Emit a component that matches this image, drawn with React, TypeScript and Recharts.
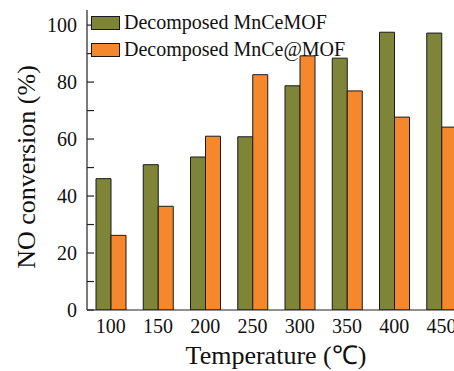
import { BarChart, Bar, XAxis, YAxis } from 'recharts';

const temperatures = ['100', '150', '200', '250', '300', '350', '400', '450'];
const mnCeMof = [46.1, 51.0, 53.7, 60.8, 78.7, 88.4, 97.5, 97.2];
const mnCeAtMof = [26.2, 36.4, 61.0, 82.6, 89.2, 76.9, 67.7, 64.2];
const seriesNames = ['Decomposed MnCeMOF', 'Decomposed MnCe@MOF'];
const seriesColors = ['#7e8538', '#f5882c'];
const yTicks = [0, 10, 20, 30, 40, 50, 60, 70, 80, 90, 100];

const FONT = '"Liberation Serif", "Times New Roman", serif';

const data = temperatures.map((t, i) => ({
    temp: t,
    a: mnCeMof[i],
    b: mnCeAtMof[i],
}));

// left axis ticks point inward; labels only on the major ticks
function YTick(props: any) {
    const { x, y, payload } = props;
    const major = payload.value % 20 === 0;
    return (
        <g>
            <line x1={x + 10} x2={x + 17} y1={y} y2={y} stroke="#222" strokeWidth={1.2} />
            {major && (
                <text x={x} y={y} dy="0.35em" textAnchor="end" fontSize={20} fontFamily={FONT} fill="#111">
                    {payload.value}
                </text>
            )}
        </g>
    );
}

export default function App() {
    return (
        <div style={{ position: 'fixed', left: 0, top: 0, width: 454, height: 371, overflow: 'hidden', background: '#fff' }}>
            <BarChart
                width={470}
                height={371}
                data={data}
                margin={{ top: 10, right: 5, left: 0, bottom: 0 }}
                barGap={0}
                barSize={15}
            >
                <XAxis
                    dataKey="temp"
                    height={61}
                    axisLine={{ stroke: '#222', strokeWidth: 1.2 }}
                    tickLine={false}
                    tickSize={6}
                    tickMargin={3}
                    tick={{ fontSize: 20, fontFamily: FONT, fill: '#111' }}
                    interval={0}
                    label={{
                        content: () => (
                            <text x={276} y={364} textAnchor="middle" fontSize={26} fontFamily={FONT} fill="#111">
                                Temperature (℃)
                            </text>
                        ),
                    }}
                />
                <XAxis
                    xAxisId="top"
                    dataKey="temp"
                    orientation="top"
                    height={0}
                    tick={false}
                    tickLine={false}
                    axisLine={{ stroke: '#222', strokeWidth: 1.2 }}
                />
                <YAxis
                    width={87}
                    domain={[0, 105.3]}
                    ticks={yTicks}
                    interval={0}
                    allowDataOverflow
                    axisLine={{ stroke: '#222', strokeWidth: 1.2 }}
                    tickLine={false}
                    tickSize={0}
                    tickMargin={10}
                    tick={<YTick />}
                    label={{
                        content: () => (
                            <text
                                x={35}
                                y={167}
                                transform="rotate(-90 35 167)"
                                textAnchor="middle"
                                fontSize={26}
                                fontFamily={FONT}
                                fill="#111"
                            >
                                NO conversion (%)
                            </text>
                        ),
                    }}
                />
                <Bar dataKey="a" name={seriesNames[0]} fill={seriesColors[0]} stroke="#1a1a1a" strokeWidth={1} isAnimationActive={false} />
                <Bar dataKey="b" name={seriesNames[1]} fill={seriesColors[1]} stroke="#1a1a1a" strokeWidth={1} isAnimationActive={false} />
            </BarChart>
            <div style={{ position: 'absolute', left: 91, top: 9, fontFamily: FONT, fontSize: 20, color: '#111' }}>
                {seriesNames.map((name, i) => (
                    <div key={name} style={{ display: 'flex', alignItems: 'center', height: 27 }}>
                        <span
                            style={{
                                display: 'inline-block',
                                width: 27,
                                height: 12,
                                background: seriesColors[i],
                                border: '1.5px solid #1a1a1a',
                                marginRight: 4,
                            }}
                        />
                        <span>{name}</span>
                    </div>
                ))}
            </div>
        </div>
    );
}
